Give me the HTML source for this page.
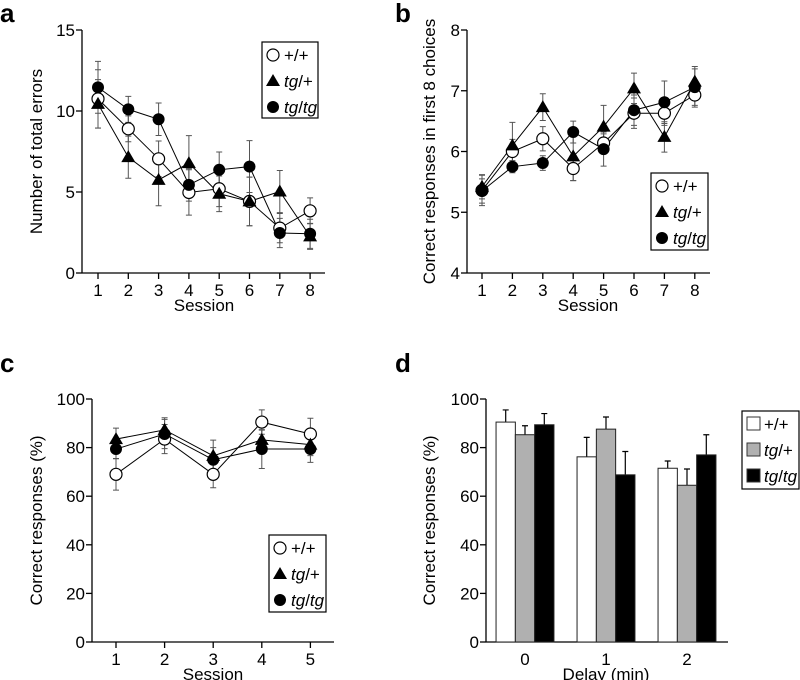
<!DOCTYPE html>
<html><head><meta charset="utf-8">
<style>
html,body{margin:0;padding:0;background:#fff;}
svg{display:block;font-family:"Liberation Sans",Arial,sans-serif;}
</style></head>
<body>
<svg id="fig" width="800" height="680" viewBox="0 0 800 680" xmlns="http://www.w3.org/2000/svg">
<text x="0" y="22" font-size="26" font-weight="bold">a</text>
<text x="395" y="22" font-size="26" font-weight="bold">b</text>
<text x="0" y="372" font-size="26" font-weight="bold">c</text>
<text x="395" y="372" font-size="26" font-weight="bold">d</text>
</svg>
<script>
// ---- Panel a data ----
const sessionsA = [1,2,3,4,5,6,7,8];
const aWT = [10.75,8.9,7.05,4.97,5.2,4.42,2.77,3.84];
const aWTErr = [1.8,0.8,1.1,1.4,1.1,1.5,0.9,0.8];
const aHet = [10.44,7.15,5.75,6.78,4.89,4.42,5.03,2.26];
const aHetErr = [1.5,1.3,1.6,1.7,1.1,1.5,1.3,0.8];
const aHom = [11.46,10.1,9.49,5.44,6.37,6.57,2.47,2.42];
const aHomErr = [1.6,0.8,1.0,1.0,1.1,1.6,0.9,0.9];
const aTicks = [0,5,10,15];
// ---- Panel b data ----
const bWT = [5.36,6.0,6.21,5.72,6.14,6.63,6.63,6.93];
const bWTErr = [0.25,0.2,0.2,0.2,0.15,0.25,0.2,0.2];
const bHet = [5.42,6.1,6.73,5.92,6.41,7.04,6.24,7.15];
const bHetErr = [0.2,0.38,0.22,0.4,0.35,0.25,0.25,0.25];
const bHom = [5.35,5.75,5.81,6.32,6.04,6.68,6.81,7.06];
const bHomErr = [0.2,0.1,0.12,0.18,0.28,0.25,0.35,0.3];
const bTicks = [4,5,6,7,8];
// ---- Panel c data ----
const sessionsC = [1,2,3,4,5];
const cWT = [69,83.5,69,90.5,85.6];
const cWTErr = [6.5,6,5.5,5,6.5];
const cHet = [83.5,87.3,76.6,83.2,81.2];
const cHetErr = [4.5,5,6.5,4,4.5];
const cHom = [79.4,85.6,75,79.4,79.4];
const cHomErr = [4,6,5,8,5.5];
const cTicks = [0,20,40,60,80,100];
// ---- Panel d data ----
const delays = ["0","1","2"];
const dWT = [90.5,76.2,71.5];
const dWTErr = [5,8,3];
const dHet = [85.3,87.6,64.5];
const dHetErr = [3.7,5,6.7];
const dHom = [89.4,68.8,77];
const dHomErr = [4.6,9.6,8.3];
const dTicks = [0,20,40,60,80,100];

const NS="http://www.w3.org/2000/svg";
const svg=document.getElementById('fig');
function mk(tag,attrs,parent){const e=document.createElementNS(NS,tag);for(const k in attrs)e.setAttribute(k,attrs[k]);(parent||svg).appendChild(e);return e;}

function marker(g,type,x,y){
  let e;
  if(type==='wt'){e=mk('circle',{cx:x,cy:y,r:6,fill:'#fff',stroke:'#000','stroke-width':1.2},g);}
  else if(type==='het'){e=mk('path',{d:`M${x} ${y-7}L${x+7} ${y+5}L${x-7} ${y+5}Z`,fill:'#000'},g);}
  else {e=mk('circle',{cx:x,cy:y,r:6,fill:'#000'},g);}
  return e;
}

function legend(g,x,y,w,h,kind){
  const box=mk('rect',{x:x,y:y,width:w,height:h,fill:'#fff',stroke:'#000','stroke-width':1.2},g);
  
  
  const labels=[['+/+',false],['tg/+',true],['tg/tg',true]];
  const types=['wt','het','hom'];
  const fills=['#fff','#b0b0b0','#000'];
  for(let i=0;i<3;i++){
    const yy=y+13+i*26;
    let m;
    if(kind==='line'){m=marker(g,types[i],x+11,yy);}
    else{m=mk('rect',{x:x+5,y:yy-7,width:13,height:13,fill:fills[i],stroke:'#333','stroke-width':1},g);}
    
    
    const t=mk('text',{x:x+22,y:yy+6,'font-size':17},g);
    
    
    if(labels[i][1]){
      const parts=labels[i][0].split('/');
      const a=mk('tspan',{'font-style':'italic'},t);a.textContent='tg';
      const b=mk('tspan',{},t);b.textContent='/';
      const c=mk('tspan',{'font-style':parts[1]==='tg'?'italic':'normal'},t);c.textContent=parts[1];
    } else t.textContent=labels[i][0];
  }
}

function axes(g,o){
  const Y=v=>o.yBot-(v-o.min)/(o.max-o.min)*(o.yBot-o.yTop);
  const yl=mk('line',{x1:o.ax,y1:o.yTop,x2:o.ax,y2:o.yBot,stroke:'#000','stroke-width':1.3},g);
  
  const xl=mk('line',{x1:o.ax,y1:o.yBot,x2:o.axEnd,y2:o.yBot,stroke:'#000','stroke-width':1.3},g);
  
  o.ticks.forEach(v=>{
    mk('line',{x1:o.ax-6,y1:Y(v),x2:o.ax,y2:Y(v),stroke:'#000','stroke-width':1.3},g);
    const t=mk('text',{x:o.ax-7,y:Y(v)+6,'font-size':17,'text-anchor':'end'},g);
    
    t.textContent=v;
  });
  const yt=mk('text',{x:o.ylx,y:(o.yTop+o.yBot)/2,'font-size':17,'text-anchor':'middle',transform:`rotate(-90 ${o.ylx} ${(o.yTop+o.yBot)/2})`},g);
  
  yt.textContent=o.ylabel;
  const xt=mk('text',{x:o.xlx,y:o.yBot+38,'font-size':17,'text-anchor':'middle'},g);
  
  xt.textContent=o.xlabel;
  return Y;
}

function linePanel(name,o,cats,series,leg){
  const g=mk('g',{});
  
  const Y=axes(g,o);
  const X=i=>o.x0+i*o.dx;
  cats.forEach((c,i)=>{
    mk('line',{x1:X(i),y1:o.yBot,x2:X(i),y2:o.yBot+6,stroke:'#000','stroke-width':1.3},g);
    const t=mk('text',{x:X(i),y:o.yBot+23,'font-size':17,'text-anchor':'middle'},g);
    
    t.textContent=c;
  });
  series.forEach(s=>{
    s.vals.forEach((v,i)=>{
      const eb=mk('path',{d:`M${X(i)} ${Y(v-s.err[i])}V${Y(v+s.err[i])}M${X(i)-3} ${Y(v-s.err[i])}h6M${X(i)-3} ${Y(v+s.err[i])}h6`,stroke:'#555','stroke-width':1,fill:'none'},g);
      
    });
  });
  series.forEach(s=>{
    const pl=mk('polyline',{points:s.vals.map((v,i)=>X(i)+','+Y(v)).join(' '),fill:'none',stroke:'#000','stroke-width':1},g);
    
  });
  series.forEach(s=>{
    s.vals.forEach((v,i)=>{
      const m=marker(g,s.type,X(i),Y(v));
      
    });
  });
  legend(g,leg[0],leg[1],leg[2],leg[3],'line');
}

linePanel('panel-a-chart',{ax:82,axEnd:325,yTop:30,yBot:273,min:0,max:15,ticks:aTicks,ylabel:'Number of total errors',ylx:42,xlabel:'Session',xlx:204,x0:98,dx:30.3},
  sessionsA,[{type:'wt',vals:aWT,err:aWTErr},{type:'het',vals:aHet,err:aHetErr},{type:'hom',vals:aHom,err:aHomErr}],[262,42,56,76]);
linePanel('panel-b-chart',{ax:467,axEnd:710,yTop:30,yBot:273,min:4,max:8,ticks:bTicks,ylabel:'Correct responses in first 8 choices',ylx:435,xlabel:'Session',xlx:588,x0:482,dx:30.4},
  sessionsA,[{type:'wt',vals:bWT,err:bWTErr},{type:'het',vals:bHet,err:bHetErr},{type:'hom',vals:bHom,err:bHomErr}],[651,173,57,77]);
linePanel('panel-c-chart',{ax:92,axEnd:334,yTop:399,yBot:642,min:0,max:100,ticks:cTicks,ylabel:'Correct responses (%)',ylx:42,xlabel:'Session',xlx:213,x0:116,dx:48.6},
  sessionsC,[{type:'wt',vals:cWT,err:cWTErr},{type:'het',vals:cHet,err:cHetErr},{type:'hom',vals:cHom,err:cHomErr}],[269,535,57,77]);

(function(){
  const g=mk('g',{});
  
  const o={ax:486,axEnd:728,yTop:399,yBot:642,min:0,max:100,ticks:dTicks,ylabel:'Correct responses (%)',ylx:435,xlabel:'Delay (min)',xlx:606};
  const Y=axes(g,o);
  const X=i=>525+i*81;
  const bw=19.3;
  const ser=[{t:'wt',v:dWT,e:dWTErr,f:'#fff'},{t:'het',v:dHet,e:dHetErr,f:'#b0b0b0'},{t:'hom',v:dHom,e:dHomErr,f:'#000'}];
  delays.forEach((c,i)=>{
    const t=mk('text',{x:X(i),y:o.yBot+23,'font-size':17,'text-anchor':'middle'},g);
    
    t.textContent=c;
    ser.forEach((s,k)=>{
      const x=X(i)+(k-1.5)*bw;
      const eb=mk('path',{d:`M${x+bw/2} ${Y(s.v[i])}V${Y(s.v[i]+s.e[i])}M${x+bw/2-3} ${Y(s.v[i]+s.e[i])}h6`,stroke:'#000','stroke-width':1.2,fill:'none'},g);
      
      const r=mk('rect',{x:x,y:Y(s.v[i]),width:bw,height:o.yBot-Y(s.v[i]),fill:s.f,stroke:'#222','stroke-width':1},g);
      
    });
  });
  legend(g,742,411,57,78,'bar');
})();
</script>
</body></html>
